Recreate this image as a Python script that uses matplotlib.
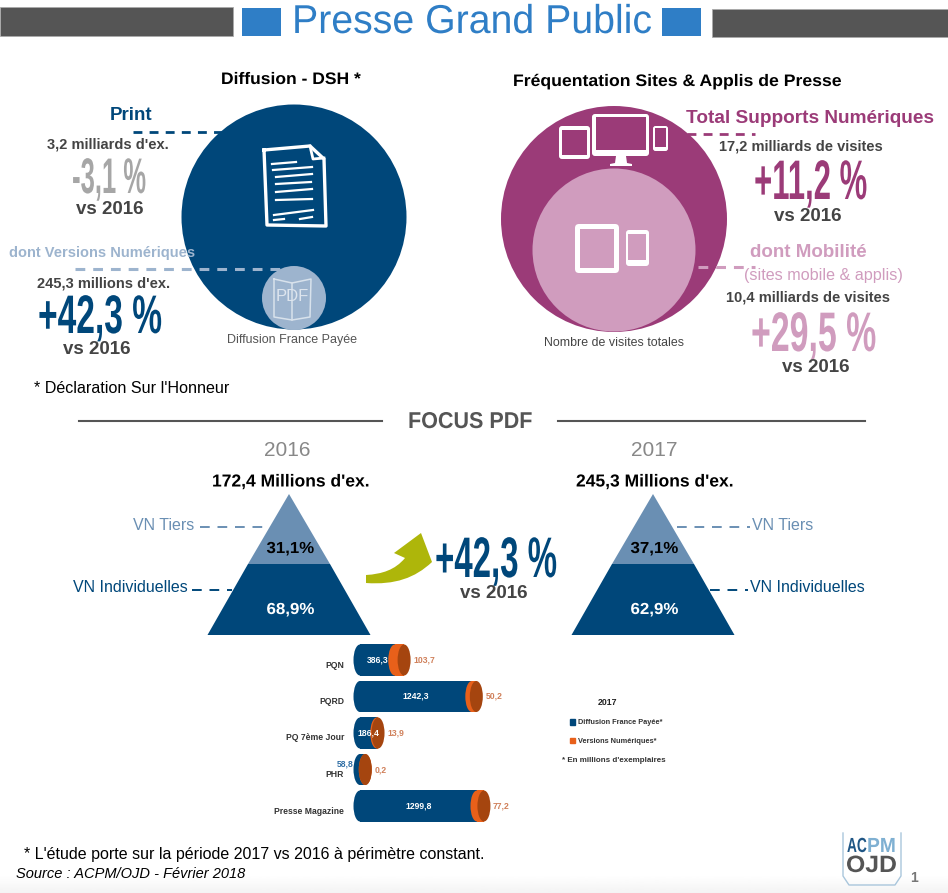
import numpy as np
import matplotlib
matplotlib.use("Agg")
import matplotlib.pyplot as plt
from matplotlib.patches import Circle, Ellipse, Polygon, FancyBboxPatch, PathPatch, Rectangle, Patch
from matplotlib.path import Path
from matplotlib.patheffects import AbstractPathEffect
from matplotlib.transforms import Affine2D

# ---------- data ----------
categories = ["PQN", "PQRD", "PQ 7ème Jour", "PHR", "Presse Magazine"]
diffusion_france = [386.3, 1242.3, 186.4, 58.8, 1299.8]
versions_numeriques = [103.7, 50.2, 13.9, 0.2, 77.2]
pdf_share_2016 = [31.1, 68.9]
pdf_share_2017 = [37.1, 62.9]
pdf_total_2016 = 172.4
pdf_total_2017 = 245.3

W, H = 948, 893
NAVY = "#00477A"; LBLUE = "#9DB4CE"; MID = "#6A8FB3"; TITLEBLUE = "#2F7EC6"
PLUM = "#9B3B78"; PINK = "#D09CBE"; DGREY = "#444444"; ORANGE = "#E8601A"; BROWN = "#A5450F"

plt.rcParams["font.family"] = ["Liberation Sans", "DejaVu Sans"]
fig = plt.figure(figsize=(W / 100, H / 100), dpi=100, facecolor="white")
ax = fig.add_axes([0, 0, 1, 1])
ax.set_xlim(0, W); ax.set_ylim(H, 0); ax.axis("off")
renderer = fig.canvas.get_renderer()

class Squeeze(AbstractPathEffect):
    """Draws the glyphs of a text narrower (about their centre) and taller (from the baseline)."""
    def __init__(self, sx, sy=1.0):
        super().__init__()
        self.sx, self.sy = sx, sy
    def draw_path(self, renderer, gc, tpath, affine, rgbFace=None):
        ext = tpath.get_extents()
        cx = (ext.x0 + ext.x1) / 2
        t = Affine2D().translate(-cx, 0).scale(self.sx, self.sy).translate(cx, 0) + affine
        renderer.draw_path(gc, tpath, t, rgbFace)

def T(x, y, s, size, color="black", weight="normal", ha="center", va="center", width=None, sy=1.0, **kw):
    if va == "center":
        y = y + 1.5
    t = ax.text(x, y, s, fontsize=size, color=color, fontweight=weight, ha=ha, va=va, **kw)
    if width is not None:
        w = t.get_window_extent(renderer).width
        t.set_path_effects([Squeeze(width / w, sy)])
    return t

def big(x, baseline, s, digit_h, color, width):
    """Tall condensed figure: digit height and total width in pixels."""
    size = 27
    cap = 0.70 * size * 100 / 72
    return T(x, baseline, s, size, color, "bold", va="baseline", width=width, sy=digit_h / cap)

def dash(x0, x1, y, color, lw=2.0, pattern=(3.2, 2.6), z=6):
    ax.plot([x0, x1], [y, y], color=color, lw=lw, dashes=pattern, zorder=z)

def device(x0, y0, x1, y1, sx0, sy0, sx1, sy1, r, screen, z=5):
    ax.add_patch(FancyBboxPatch((x0 + r, y0 + r), x1 - x0 - 2 * r, y1 - y0 - 2 * r,
                                boxstyle=f"round,pad={r},rounding_size={r}", fc="white", ec="none", zorder=z))
    ax.add_patch(Rectangle((sx0, sy0), sx1 - sx0, sy1 - sy0, fc=screen, ec="none", zorder=z + 0.1))

# ---------- header ----------
ax.add_patch(Rectangle((0, 7), 233, 29, fc="#555555", ec="#AAAAAA", lw=0.6))
ax.add_patch(Rectangle((712, 9), 236, 28, fc="#555555", ec="#AAAAAA", lw=0.6))
ax.add_patch(Rectangle((242, 8), 39, 28, fc=TITLEBLUE, ec="none"))
ax.add_patch(Rectangle((662, 8), 39, 28, fc=TITLEBLUE, ec="none"))
T(472, 33, "Presse Grand Public", 29, TITLEBLUE, va="baseline", width=360)
T(290.5, 78, "Diffusion - DSH *", 12, "black", "bold", width=139)
T(676.5, 80, "Fréquentation Sites & Applis de Presse", 12, "black", "bold", width=327)

# ---------- left circle ----------
ax.add_patch(Circle((294, 217), 112.5, fc=NAVY, ec="none", zorder=2))
ax.add_patch(Circle((294, 298), 32, fc=LBLUE, ec="none", zorder=3))
doc = [(264, 150), (310, 146), (324, 159), (326, 226), (267, 225), (264, 150)]
ax.plot(*zip(*doc), color="white", lw=2.4, zorder=5)
ax.plot([310, 313, 324], [146, 159, 158], color="white", lw=2, zorder=5)
for xa, ya, xb, yb in [(272, 164, 296, 162), (273, 170, 312, 167), (276, 177, 312, 174), (276, 184, 311, 182),
                       (276, 192, 312, 189), (276, 200, 312, 199), (274, 215, 313, 210), (274, 220, 284, 219), (300, 219, 312, 217)]:
    ax.plot([xa, xb], [ya, yb], color="white", lw=1.6, zorder=5)
ax.plot([274, 274, 292, 310, 311, 311, 292, 274], [279, 317, 320, 317, 279, 279, 283, 279], color="#D8E2EC", lw=1.1, zorder=5)
ax.plot([292, 292], [283, 320], color="#D8E2EC", lw=1.1, zorder=5)
T(292, 295, "PDF", 12, "#DDE5EE", zorder=6)
T(292, 339, "Diffusion France Payée", 9, "#555555")

T(131, 114, "Print", 13.5, NAVY, "bold")
dash(133, 222, 132, NAVY)
T(107.5, 143, "3,2 milliards d'ex.", 10.5, DGREY, "bold")
big(109, 193, "-3,1 %", 35, "#A6A6A6", 74)
T(110, 208, "vs 2016", 13.5, DGREY, "bold")
T(102.5, 251, "dont Versions Numériques", 10.5, LBLUE, "bold", zorder=6)
dash(75, 285, 269, LBLUE, lw=2.2)
T(104, 282, "245,3 millions d'ex.", 10.5, DGREY, "bold")
big(100, 333, "+42,3 %", 38, NAVY, 124)
T(97, 348, "vs 2016", 13.5, DGREY, "bold")
T(132, 387, "* Déclaration Sur l'Honneur", 11.6, "black")

# ---------- right circle ----------
ax.add_patch(Circle((614, 219), 113, fc=PLUM, ec="none", zorder=2))
ax.add_patch(Circle((614, 250), 81.5, fc=PINK, ec="none", zorder=3))
device(592, 114, 649, 156, 596, 117, 646, 150, 3, PLUM)
ax.add_patch(Polygon([(616, 156), (626, 156), (627, 163), (632, 164), (632, 166), (610, 166), (610, 164), (615, 163)],
                     fc="white", ec="none", zorder=5))
device(559, 126, 590, 159, 562, 130, 587, 155, 3, PLUM)
device(653, 126, 668, 151, 655, 128, 666, 147, 2.5, PLUM)
device(575, 224, 619, 273, 580, 229, 614, 268, 4, PINK)
device(626, 230, 649, 266, 628, 234, 646, 260, 3, PINK)
T(614.5, 341, "Nombre de visites totales", 8.9, "#444444")

T(810, 117, "Total Supports Numériques", 13.7, PLUM, "bold", zorder=6)
dash(687, 755, 134, PLUM)
T(801, 145, "17,2 milliards de visites", 10.5, DGREY, "bold")
big(810.5, 199, "+11,2 %", 39, PLUM, 113)
T(807.5, 215, "vs 2016", 13.5, DGREY, "bold")
T(808, 251, "dont Mobilité", 13.5, PINK, "bold")
dash(698, 755, 267, PINK, lw=2.2)
T(823, 274, "(sites mobile & applis)", 11.6, PINK, zorder=7)
T(808, 296, "10,4 milliards de visites", 10.5, DGREY, "bold")
big(813.5, 351, "+29,5 %", 39, PINK, 125)
T(815.5, 366, "vs 2016", 13.5, DGREY, "bold")

# ---------- focus PDF ----------
ax.plot([79, 382], [421, 421], color="#555555", lw=1.5)
ax.plot([558, 865], [421, 421], color="#555555", lw=1.5)
T(470, 420, "FOCUS PDF", 16.5, "#555555", "bold", width=124)
T(287, 449, "2016", 15, "#888888")
T(654, 449, "2017", 15, "#888888")

def pct(v):
    return f"{v:.1f}".replace(".", ",") + "%"

def pyramid(cx, shares, total):
    ax.add_patch(Polygon([(cx, 494), (cx - 41, 564), (cx + 41, 564)], fc=MID, ec="none"))
    ax.add_patch(Polygon([(cx - 41, 564), (cx + 41, 564), (cx + 81.5, 635), (cx - 81.5, 635)], fc=NAVY, ec="none"))
    T(cx + 1.5, 547, pct(shares[0]), 11.5, "black", "bold", width=48)
    T(cx + 1.5, 608, pct(shares[1]), 11.5, "white", "bold", width=48)
    T(cx + 2, 480.5, f"{total:.1f}".replace(".", ",") + " Millions d'ex.", 12.5, "black", "bold", width=158)

pyramid(289, pdf_share_2016, pdf_total_2016)
pyramid(653, pdf_share_2017, pdf_total_2017)

T(164, 524, "VN Tiers", 11.5, MID)
T(130, 586, "VN Individuelles", 11.5, NAVY)
T(783, 524, "VN Tiers", 11.5, MID)
T(807, 586, "VN Individuelles", 11.5, NAVY)
dash(200, 270, 527, MID, lw=1.4, pattern=(5, 4), z=1)
dash(677, 750, 527, MID, lw=1.4, pattern=(5, 4), z=1)
dash(192, 232, 590, NAVY, lw=1.4, pattern=(5, 4), z=1)
dash(710, 748, 590, NAVY, lw=1.4, pattern=(5, 4), z=1)

arrow = Path([(366, 583), (395, 585), (415, 578), (432, 562), (421, 533), (394, 553), (405, 558),
              (395, 570), (382, 574), (366, 575), (366, 583)],
             [Path.MOVETO, Path.CURVE4, Path.CURVE4, Path.CURVE4, Path.LINETO, Path.LINETO, Path.LINETO,
              Path.CURVE4, Path.CURVE4, Path.CURVE4, Path.CLOSEPOLY])
ax.add_patch(PathPatch(arrow, fc="#AEB60A", ec="none"))
big(496, 577, "+42,3 %", 40, NAVY, 122)
T(494, 592, "vs 2016", 13.5, DGREY, "bold")

# ---------- footer ----------
T(24, 853, "* L'étude porte sur la période 2017 vs 2016 à périmètre constant.", 11.5, "black", ha="left")
T(16, 873, "Source : ACPM/OJD - Février 2018", 10.5, "black", ha="left", style="italic")
ax.imshow(np.linspace(1, 0.955, 20)[:, None], cmap="gray", vmin=0, vmax=1, extent=(0, W, H, H - 18), aspect="auto", zorder=0)
ax.set_xlim(0, W); ax.set_ylim(H, 0)
ax.plot([843, 843, 849, 895, 901, 901], [833, 876, 885, 885, 876, 833], color="#A9C6DC", lw=1)
T(857, 852, "AC", 10.5, "#1F5685", "bold", va="baseline", width=20, sy=1.4)
T(881.5, 852, "PM", 10.5, "#7FB0D2", "bold", va="baseline", width=29, sy=1.4)
T(871.5, 864, "OJD", 17, "#555555", "bold", width=51)
T(914, 876, "1", 10, "#777777", "bold")

# ---------- bar chart ----------
PX = 0.09            # pixels per unit
HALF = 6.5           # half width of the elliptical faces, pixels
left_px, right_px, top_px, bottom_px = 353, 520, 641.75, 824.25
bx = fig.add_axes([left_px / W, 1 - bottom_px / H, (right_px - left_px) / W, (bottom_px - top_px) / H])
bx.set_xlim(-7 / PX, (right_px - 360) / PX)
bx.set_ylim(4.5, -0.5)
bx.patch.set_alpha(0)
for s in bx.spines.values():
    s.set_visible(False)
y = np.arange(len(categories))
d = np.array(diffusion_france); v = np.array(versions_numeriques)
BH = 0.85
face_w = 2 * HALF / PX
bx.barh(y, d, height=BH, color=NAVY, zorder=2)
bx.barh(y, v, left=d, height=BH, color=ORANGE, zorder=3)
for yi, di, vi in zip(y, d, v):
    bx.add_patch(Ellipse((0, yi), face_w, BH, fc=NAVY, ec="none", zorder=2))
    bx.add_patch(Ellipse((di, yi), face_w, BH, fc=ORANGE, ec="none", zorder=3))
    bx.add_patch(Ellipse((di + vi, yi), face_w, BH, fc=BROWN, ec="none", zorder=4))
bx.set_yticks(y, categories, fontsize=6.2, fontweight="bold", color="#333333")
bx.set_xticks([])
bx.tick_params(axis="y", length=0, pad=6.5)
shift = Affine2D().translate(0, -4)
for lab in bx.get_yticklabels():
    lab.set_transform(lab.get_transform() + shift)
for yi, di, vi in zip(y, d, v):
    dl = f"{di:.1f}".replace(".", ",")
    vl = f"{vi:.1f}".replace(".", ",")
    if di > 100:
        bx.text(di / 2, yi, dl, color="white", fontsize=6.2, fontweight="bold", ha="center", va="center", zorder=6)
    else:
        bx.annotate(dl, (0, yi), xytext=(-5, 4), textcoords="offset points", color="#2F6EA5",
                    fontsize=6.2, fontweight="bold", ha="right", va="center", zorder=6)
    bx.annotate(vl, (di + vi, yi), xytext=(6.5, 0), textcoords="offset points", color="#D0805A",
                fontsize=6.2, fontweight="bold", ha="left", va="center", zorder=6)

T(608, 701, "2017", 6.3, "#222222", "bold")
leg = ax.legend(handles=[Patch(color=NAVY, label="Diffusion France Payée*"), Patch(color=ORANGE, label="Versions Numériques*")],
                loc="upper left", bbox_to_anchor=(570, 719), bbox_transform=ax.transData, frameon=False,
                prop={"size": 5.35, "weight": "bold"}, handlelength=0.7, handleheight=0.8, handletextpad=0.4,
                labelspacing=1.5, borderpad=0, borderaxespad=0)
for t in leg.get_texts():
    t.set_color("#333333")
T(562, 759, "* En millions d'exemplaires", 5.8, "#333333", "bold", ha="left")

fig.savefig("out.png", dpi=100)
